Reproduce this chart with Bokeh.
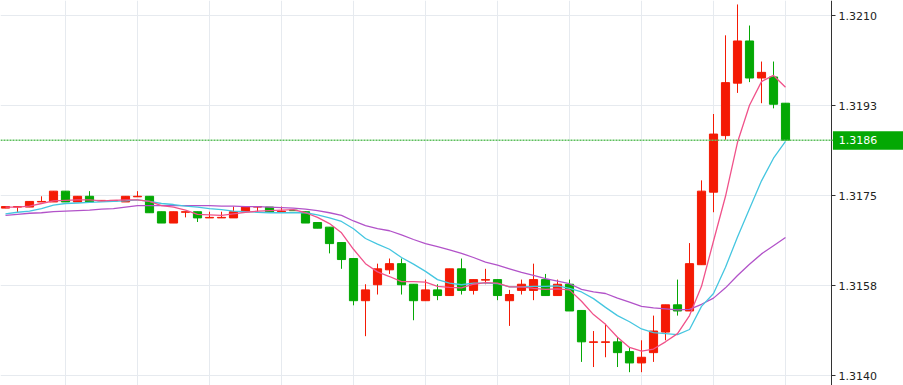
from bokeh.plotting import figure
from bokeh.models import FixedTicker, Range1d, Label, Span, BoxAnnotation
from bokeh.embed import file_html
from bokeh.resources import INLINE

# ---- data ----
opens = [1.31726, 1.31728, 1.31728, 1.31738, 1.31738, 1.31759, 1.31738, 1.31749, 1.31740, 1.31740,
         1.31738, 1.31748, 1.31749, 1.31719, 1.31697, 1.31718, 1.31719, 1.31707, 1.31707, 1.31707,
         1.31719, 1.31728, 1.31728, 1.31719, 1.31722, 1.31719, 1.31698, 1.31689, 1.31659, 1.31628,
         1.31546, 1.31577, 1.31606, 1.31618, 1.31578, 1.31546, 1.31567, 1.31556, 1.31608, 1.31566,
         1.31586, 1.31587, 1.31546, 1.31566, 1.31566, 1.31587, 1.31556, 1.31578, 1.31527, 1.31465,
         1.31465, 1.31466, 1.31447, 1.31425, 1.31445, 1.31485, 1.31538, 1.31526, 1.31616, 1.31757,
         1.31867, 1.31969, 1.32051, 1.31979, 1.31981, 1.31930]
highs = [1.31729, 1.31729, 1.31739, 1.31749, 1.31759, 1.31759, 1.31749, 1.31759, 1.31741, 1.31741,
         1.31749, 1.31759, 1.31749, 1.31719, 1.31719, 1.31719, 1.31719, 1.31719, 1.31719, 1.31729,
         1.31729, 1.31729, 1.31728, 1.31729, 1.31722, 1.31719, 1.31698, 1.31689, 1.31659, 1.31628,
         1.31578, 1.31618, 1.31628, 1.31628, 1.31578, 1.31587, 1.31578, 1.31608, 1.31628, 1.31587,
         1.31608, 1.31587, 1.31567, 1.31587, 1.31618, 1.31598, 1.31587, 1.31587, 1.31527, 1.31487,
         1.31501, 1.31475, 1.31456, 1.31469, 1.31517, 1.31538, 1.31587, 1.31658, 1.31780, 1.31909,
         1.32062, 1.32122, 1.32081, 1.32011, 1.32011, 1.31930]
lows = [1.31726, 1.31718, 1.31728, 1.31738, 1.31738, 1.31738, 1.31738, 1.31738, 1.31740, 1.31740,
        1.31738, 1.31748, 1.31717, 1.31697, 1.31697, 1.31708, 1.31699, 1.31707, 1.31707, 1.31707,
        1.31719, 1.31719, 1.31718, 1.31719, 1.31721, 1.31697, 1.31687, 1.31638, 1.31608, 1.31537,
        1.31477, 1.31558, 1.31598, 1.31558, 1.31508, 1.31546, 1.31547, 1.31556, 1.31558, 1.31558,
        1.31578, 1.31547, 1.31497, 1.31558, 1.31547, 1.31556, 1.31556, 1.31526, 1.31427, 1.31417,
        1.31436, 1.31417, 1.31407, 1.31407, 1.31427, 1.31469, 1.31517, 1.31526, 1.31616, 1.31718,
        1.31859, 1.31950, 1.31971, 1.31930, 1.31920, 1.31858]
closes = [1.31729, 1.31729, 1.31739, 1.31739, 1.31759, 1.31738, 1.31749, 1.31738, 1.31741, 1.31741,
          1.31749, 1.31749, 1.31717, 1.31697, 1.31719, 1.31719, 1.31707, 1.31708, 1.31708, 1.31719,
          1.31729, 1.31729, 1.31718, 1.31720, 1.31721, 1.31697, 1.31687, 1.31657, 1.31626, 1.31546,
          1.31567, 1.31608, 1.31618, 1.31577, 1.31546, 1.31567, 1.31556, 1.31608, 1.31566, 1.31587,
          1.31587, 1.31556, 1.31558, 1.31578, 1.31587, 1.31556, 1.31578, 1.31526, 1.31466, 1.31466,
          1.31466, 1.31445, 1.31425, 1.31436, 1.31487, 1.31538, 1.31526, 1.31618, 1.31759, 1.31870,
          1.31970, 1.32051, 1.31979, 1.31990, 1.31928, 1.31858]

ma_fast = [1.31728, 1.31728, 1.31730, 1.31735, 1.31740, 1.31741, 1.31742, 1.31742, 1.31740, 1.31741,
           1.31742, 1.31742, 1.31739, 1.31731, 1.31728, 1.31722, 1.31714, 1.31713, 1.31712, 1.31715,
           1.31718, 1.31720, 1.31721, 1.31722, 1.31723, 1.31717, 1.31708, 1.31696, 1.31678, 1.31646,
           1.31618, 1.31602, 1.31593, 1.31583, 1.31583, 1.31582, 1.31574, 1.31572, 1.31571, 1.31578,
           1.31581, 1.31580, 1.31573, 1.31573, 1.31570, 1.31568, 1.31569, 1.31567, 1.31545, 1.31519,
           1.31500, 1.31475, 1.31455, 1.31448, 1.31452, 1.31466, 1.31482, 1.31517, 1.31574, 1.31662,
           1.31749, 1.31854, 1.31926, 1.31972, 1.31984, 1.31961]
ma_mid = [1.31715, 1.31718, 1.31720, 1.31725, 1.31732, 1.31735, 1.31736, 1.31737, 1.31738, 1.31739,
          1.31740, 1.31742, 1.31739, 1.31735, 1.31733, 1.31730, 1.31728, 1.31725, 1.31723, 1.31720,
          1.31719, 1.31718, 1.31717, 1.31717, 1.31717, 1.31717, 1.31713, 1.31707, 1.31700, 1.31686,
          1.31667, 1.31656, 1.31646, 1.31630, 1.31617, 1.31603, 1.31587, 1.31580, 1.31577, 1.31580,
          1.31580, 1.31579, 1.31573, 1.31573, 1.31574, 1.31574, 1.31575, 1.31570, 1.31563, 1.31550,
          1.31533, 1.31517, 1.31505, 1.31491, 1.31484, 1.31482, 1.31480, 1.31490, 1.31535, 1.31560,
          1.31611, 1.31670, 1.31725, 1.31779, 1.31823, 1.31856]
ma_slow = [1.31712, 1.31714, 1.31716, 1.31717, 1.31719, 1.31720, 1.31721, 1.31722, 1.31724, 1.31725,
           1.31728, 1.31731, 1.31731, 1.31731, 1.31731, 1.31731, 1.31731, 1.31731, 1.31730, 1.31730,
           1.31729, 1.31729, 1.31728, 1.31727, 1.31726, 1.31724, 1.31721, 1.31717, 1.31712, 1.31701,
           1.31692, 1.31686, 1.31682, 1.31674, 1.31665, 1.31657, 1.31651, 1.31645, 1.31638, 1.31630,
           1.31621, 1.31615, 1.31608, 1.31601, 1.31595, 1.31589, 1.31584, 1.31579, 1.31568, 1.31563,
           1.31560, 1.31551, 1.31543, 1.31535, 1.31532, 1.31530, 1.31528, 1.31529, 1.31539, 1.31551,
           1.31571, 1.31595, 1.31617, 1.31637, 1.31653, 1.31669]

tick_values = [1.3140, 1.31575, 1.3175, 1.31925, 1.3210]
tick_labels = ["1.3140", "1.3158", "1.3175", "1.3193", "1.3210"]
grid_bars = [5, 11, 17, 23, 29, 35, 41, 47, 53, 59, 65]
last_price = 1.31858
last_label = "1.3186"

RED = "#f41a04"
GREEN = "#04a804"

n = len(opens)
idx = list(range(n))
colors = [RED if c >= o else GREEN for o, c in zip(opens, closes)]
tops = [max(o, c) for o, c in zip(opens, closes)]
bottoms = [min(o, c) for o, c in zip(opens, closes)]

# bar-index scale: 12 px per bar; price scale: 90 px per 0.00175
X0, X1 = -0.4167, 74.833      # whole canvas width is the frame
AXIS_AT = 68.833              # price axis sits right of the last bar
Y0, Y1 = 1.313811, 1.321297

p = figure(width=903, height=385, output_backend="svg", toolbar_location=None,
           x_range=Range1d(X0, X1), y_range=Range1d(Y0, Y1),
           x_axis_location=None, y_axis_location="right",
           min_border_left=0, min_border_top=0, min_border_bottom=0, min_border_right=0)
p.outline_line_color = None
p.background_fill_color = "white"
p.border_fill_color = "white"

p.xgrid.ticker = grid_bars
p.xgrid.grid_line_color = "#e6eaef"
p.ygrid.grid_line_color = "#e6eaef"

# white panel behind the price axis (hides grid lines there)
p.add_layout(BoxAnnotation(left=AXIS_AT, fill_color="white", fill_alpha=1.0,
                           line_color=None, level="underlay"))

ax = p.yaxis[0]
ax.fixed_location = AXIS_AT
ax.ticker = FixedTicker(ticks=tick_values)
ax.major_label_overrides = {v: l for v, l in zip(tick_values, tick_labels)}
ax.axis_line_color = "#333333"
ax.major_tick_line_color = "#333333"
ax.major_tick_out = 4
ax.major_tick_in = 0
ax.minor_tick_out = 0
ax.minor_tick_in = 0
ax.major_label_standoff = 3
ax.major_label_text_font = "DejaVu Sans"
ax.major_label_text_font_size = "11px"
ax.major_label_text_color = "#222222"

p.segment(idx, highs, idx, lows, color=colors, line_width=1)
p.vbar(x=idx, width=0.68, top=tops, bottom=bottoms, fill_color=colors, line_color=colors, line_width=1)

p.line(idx, ma_slow, color="#b253c9", line_width=1.3)
p.line(idx, ma_mid, color="#45c6e0", line_width=1.3)
p.line(idx, ma_fast, color="#f0528a", line_width=1.3)

p.add_layout(Span(location=last_price, dimension="width", line_color="#5dbf5d",
                  line_dash="2 1", line_width=1.6))
# price tag on the axis
p.add_layout(BoxAnnotation(left=AXIS_AT + 0.12, top=1.318755, bottom=1.318395,
                           fill_color=GREEN, fill_alpha=1.0, line_color=None, level="overlay"))
p.add_layout(Label(x=AXIS_AT + 0.6, y=last_price, text=last_label, text_color="white",
                   text_font="DejaVu Sans", text_font_size="11px", text_baseline="middle",
                   level="overlay"))

open("out.html", "w").write(file_html(p, INLINE))
